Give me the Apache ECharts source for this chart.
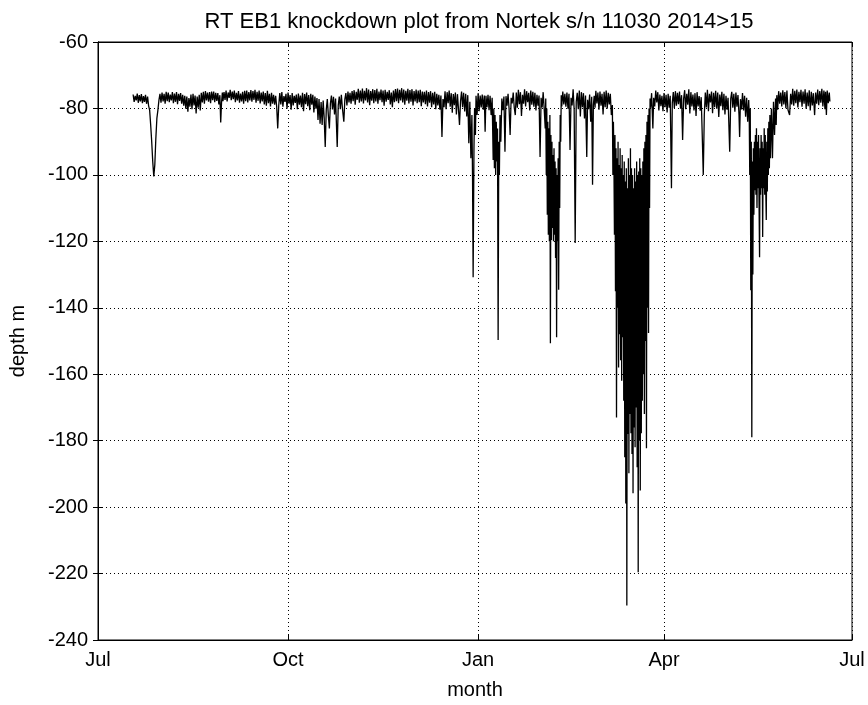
<!DOCTYPE html>
<html>
<head>
<meta charset="utf-8">
<script src="https://cdn.jsdelivr.net/npm/echarts@6/dist/echarts.min.js"></script>
<style>
  html, body { margin: 0; padding: 0; background: #fff; }
  #main { width: 868px; height: 705px; }
</style>
</head>
<body>
<div id="main"></div>
<script>
// x = days since 1 Jul 2014
var monthTickDays = [0, 92, 184, 274, 365];
var monthLabels = ['Jul', 'Oct', 'Jan', 'Apr', 'Jul'];
var depthTicks = [-240, -220, -200, -180, -160, -140, -120, -100, -80, -60];

// [day, depth m]
var depthSeries = [
  [17,-75.8],[17.5,-78.0],[18,-76.2],[18.5,-77.6],[19,-75.5],[19.5,-78.3],[20,-76.0],[20.5,-77.9],
  [21,-75.7],[21.5,-78.4],[22,-76.3],[22.5,-78.0],[23,-75.9],[23.5,-78.6],[24,-76.4],[24.5,-79.2],
  [25,-80.5],[25.5,-85],[26,-90],[26.5,-96],[27,-100.5],[27.5,-97],[28,-89],[28.5,-83],[29,-80.5],[29.5,-77.5],
  [30,-75.6],[30.5,-78.3],[31,-75.2],[31.5,-77.9],[32,-75.6],[32.5,-78.6],[33,-75.0],[33.5,-77.8],
  [34,-75.2],[34.5,-78.1],[35,-75.8],[35.5,-77.6],[36,-75.1],[36.5,-78.4],[37,-75.5],[37.5,-78.0],
  [38,-75.1],[38.5,-78.7],[39,-75.6],[39.5,-77.7],[40,-75.4],[40.5,-78.6],[41,-75.9],[41.5,-79.2],
  [42,-76.2],[42.5,-80.1],[43,-76.4],[43.5,-81.0],[44,-76.9],[44.5,-79.5],[45,-75.8],[45.5,-80.2],
  [46,-75.6],[46.5,-79.1],[47,-76.1],[47.5,-81.5],[48,-76.4],[48.5,-79.8],[49,-75.9],[49.5,-80.6],
  [50,-75.3],[50.5,-78.2],[51,-75.0],[51.5,-78.6],[52,-74.8],[52.5,-77.6],[53,-75.2],[53.5,-78.0],
  [54,-75.1],[54.5,-78.4],[55,-74.9],[55.5,-77.5],[56,-74.9],[56.5,-78.1],[57,-75.3],[57.5,-77.7],
  [58,-75.4],[58.5,-78.8],[59,-76.0],[59.4,-84.2],[59.8,-78.2],
  [60.2,-75.2],[60.5,-77.8],[61,-75.1],[61.5,-77.4],[62,-74.6],[62.5,-77.9],[63,-75.2],[63.5,-76.8],
  [64,-74.4],[64.5,-77.5],[65,-74.9],[65.5,-77.2],[66,-74.6],[66.5,-78.1],[67,-75.3],[67.5,-77.6],
  [68,-74.8],[68.5,-78.3],[69,-75.5],[69.5,-77.9],[70,-75.0],[70.5,-78.6],[71,-74.7],[71.5,-77.8],
  [72,-74.6],[72.5,-78.2],[73,-75.1],[73.5,-77.6],[74,-74.5],[74.5,-78.0],[75,-74.8],[75.5,-77.4],
  [76,-74.4],[76.5,-78.3],[77,-75.0],[77.5,-77.7],[78,-74.6],[78.5,-78.5],[79,-75.2],[79.5,-77.9],
  [80,-74.9],[80.5,-78.8],[81,-75.4],[81.5,-79.2],[82,-74.7],[82.5,-78.4],[83,-75.6],[83.5,-79.4],
  [84,-75.3],[84.5,-78.6],[85,-75.9],[85.5,-78.9],[86,-76.2],[86.5,-79.5],[87,-86],[87.5,-79],
  [88,-75.4],[88.5,-78.8],[89,-75.1],[89.5,-79.5],[90,-76.3],[90.5,-78.0],[91,-75.6],[91.5,-80.1],
  [92,-75.2],[92.5,-78.6],[93,-76.0],[93.5,-80.4],[94,-75.4],[94.5,-79.1],[95,-76.2],[95.5,-78.3],
  [96,-75.8],[96.5,-80.2],[97,-75.5],[97.5,-78.9],[98,-76.1],[98.5,-79.6],[99,-75.3],[99.5,-80.8],
  [100,-75.7],[100.5,-78.7],[101,-75.2],[101.5,-79.3],[102,-76.0],[102.5,-80.5],[103,-75.6],[103.5,-78.9],
  [104,-75.9],[104.5,-81.2],[105,-76.4],[105.5,-80.1],[106,-76.9],[106.5,-83.5],[107,-77.2],[107.5,-84.6],
  [108,-78.1],[108.5,-85],[109,-77.6],[109.5,-83],
  [110,-91.6],[110.5,-80.4],[111,-77.2],[111.5,-82],[112,-86],[112.5,-78.5],[113,-76.1],[113.5,-80.3],
  [114,-76.5],[114.5,-81.8],[115,-77.0],[115.8,-91.6],[116.3,-79],[116.8,-76.4],[117.3,-80.2],
  [117.8,-75.9],[118.3,-79.8],[119,-84],[119.5,-77.2],
  [120,-75.4],[120.5,-79.1],[121,-74.9],[121.5,-78.2],[122,-75.3],[122.5,-78.6],[123,-74.8],[123.5,-77.8],
  [124,-74.5],[124.5,-78.9],[125,-75.0],[125.5,-77.4],[126,-74.1],[126.5,-78.3],[127,-74.6],[127.5,-77.9],
  [128,-74.0],[128.5,-78.5],[129,-74.7],[129.5,-77.6],[130,-73.9],[130.5,-78.2],[131,-74.3],[131.5,-79.0],
  [132,-74.8],[132.5,-77.7],[133,-74.2],[133.5,-78.4],[134,-74.5],[134.5,-77.9],[135,-74.1],[135.5,-78.6],
  [136,-74.9],[136.5,-77.5],[137,-74.3],[137.5,-78.1],[138,-74.6],[138.5,-79.2],[139,-74.4],[139.5,-78.0],
  [140,-75.0],[140.5,-77.4],[141,-74.5],[141.5,-78.8],[142,-75.2],[142.5,-79.6],[143,-74.6],[143.5,-78.1],
  [144,-74.2],[144.5,-77.8],[145,-74.0],[145.5,-78.4],[146,-74.4],[146.5,-77.6],[147,-73.9],[147.5,-78.2],
  [148,-74.3],[148.5,-78.9],[149,-74.7],[149.5,-77.7],[150,-74.1],[150.5,-78.5],[151,-74.5],[151.5,-78.0],
  [152,-74.2],[152.5,-79.1],[153,-74.8],[153.5,-77.9],[154,-74.3],[154.5,-78.4],[155,-74.6],[155.5,-78.1],
  [156,-74.4],[156.5,-79.3],[157,-74.9],[157.5,-78.2],[158,-75.0],[158.5,-78.7],[159,-74.6],[159.5,-79.4],
  [160,-75.1],[160.5,-78.3],[161,-74.8],[161.5,-79.6],[162,-75.3],[162.5,-78.8],[163,-75.0],[163.5,-80.2],
  [164,-75.6],[164.5,-79.1],[165,-75.9],[165.5,-80.4],[166,-76.1],[166.5,-88.6],[167,-77.2],[167.5,-79.6],
  [168,-74.8],[168.5,-80.2],[169,-75.1],[169.5,-78.4],[170,-74.6],[170.5,-79.5],[171,-75.4],[171.5,-81.3],
  [172,-75.7],[172.5,-79.0],[173,-75.2],[173.5,-81.8],[174,-75.7],[174.5,-80.2],[175,-85],[175.5,-77.8],
  [176,-74.9],[176.5,-79.6],[177,-75.3],[177.5,-80.9],[178,-75.6],[178.5,-82.4],
  [179,-76],[179.5,-90.5],[180,-78],[180.5,-95],[181,-82],[181.3,-100],[181.6,-130.8],[182,-92],
  [182.3,-80],[182.7,-88],[183,-76.2],[183.5,-82],
  [184,-75.4],[184.5,-80.8],[185,-76.1],[185.5,-79.7],[186,-75.8],[186.5,-80.4],[187,-76.1],[187.4,-87],
  [187.8,-76.2],[188.3,-79.6],[188.8,-75.9],[189.3,-80.5],[189.8,-76.2],[190.3,-82],[190.8,-76.8],
  [191.3,-95.5],[191.6,-80],[191.9,-98],[192.2,-82],[192.5,-100],[192.8,-84],[193.1,-96],[193.4,-86],
  [193.7,-149.7],[194,-90],[194.3,-100],[194.6,-82],[195,-90],[195.5,-77],[196,-80.5],[196.5,-76.4],
  [197,-93],[197.5,-76.3],[198,-79.2],[198.5,-75.6],[199,-80.1],[199.5,-88],
  [200,-76.8],[200.5,-78.5],[201,-75.2],[201.5,-79.8],[202,-82],[202.5,-75.2],[203,-79.8],[203.5,-74.4],
  [204,-78.7],[204.5,-75.1],[205,-82.3],[205.5,-75.9],[206,-78.6],[206.5,-74.2],[207,-79.4],[207.5,-74.8],
  [208,-78.1],[208.5,-75.3],[209,-80.6],[209.5,-74.6],[210,-78.9],[210.5,-75.0],[211,-79.5],[211.5,-75.3],
  [212,-80.6],[212.5,-75.9],[213,-79.2],[213.5,-76.1],[214,-94.6],[214.5,-76.8],[215,-79.7],[215.5,-75.1],
  [216,-80.2],[216.5,-86],[216.75,-77],[217,-100],[217.25,-80],[217.5,-112],[217.75,-84],[218,-118],
  [218.25,-86],[218.5,-120],[218.75,-82],[219,-150.7],[219.25,-88],[219.5,-119.6],[219.75,-90],[220,-116],
  [220.25,-94],[220.5,-120],[220.75,-92],[221,-118],[221.25,-96],[221.5,-125],[221.75,-98],[222,-148.9],
  [222.25,-100],[222.5,-120],[222.75,-95],[223,-134.6],[223.25,-90],[223.5,-110],[223.75,-82],[224,-90],
  [224.25,-76],[224.5,-79.4],[225,-74.9],[225.5,-78.8],[226,-75.6],[226.5,-79.5],[227,-75.2],[227.5,-80.1],
  [228,-75.6],[228.5,-92.5],[229,-76.8],[229.5,-79.1],[230,-74.2],[230.5,-80.3],[231,-120.5],[231.5,-78],
  [232,-75.3],[232.5,-80.2],[233,-74.6],[233.5,-82.4],[234,-75.1],[234.5,-79.6],[235,-75.4],[235.5,-83],
  [236,-76.1],[236.6,-94.6],[237,-77.4],[237.5,-80.2],[238,-75.8],[238.5,-84],[239,-76.5],[239.4,-103],
  [239.8,-79],[240.2,-76.2],[240.6,-79.8],[241,-74.7],[241.5,-78.5],[242,-75.2],[242.5,-80.4],[243,-74.9],
  [243.5,-79.2],[244,-75.6],[244.5,-81.8],[245,-75.0],[245.5,-79.6],[246,-74.6],[246.5,-80.1],[247,-75.3],
  [247.5,-78.8],[248,-75.6],[248.5,-82],[249,-79],[249.25,-100],[249.5,-84],
  [249.75,-96],[250,-118],[250.25,-88],[250.5,-135],[250.75,-92],[251,-173],[251.25,-95],[251.5,-140],
  [251.75,-90],[252,-158],[252.25,-97],[252.5,-148],[252.75,-92],[253,-155.8],[253.25,-98],[253.5,-162],
  [253.75,-94],[254,-148.9],[254.25,-100],[254.5,-168],[254.75,-96],[255,-185],[255.25,-102],[255.5,-198.9],
  [255.75,-98],[256,-229.6],[256.25,-104],[256.5,-178],[256.75,-95],[257,-189.8],[257.25,-100],[257.5,-172],
  [257.75,-92],[258,-177.8],[258.25,-98],[258.5,-184],[258.75,-100],[259,-195.8],[259.25,-104],[259.5,-176],
  [259.75,-98],[260,-182],[260.25,-102],[260.5,-170],[260.75,-96],[261,-188],[261.25,-100],[261.5,-219.6],
  [261.75,-99],[262,-180],[262.25,-95],[262.5,-195],[262.75,-98],[263,-177.8],[263.25,-100],[263.5,-168],
  [263.75,-96],[264,-160],[264.25,-92],[264.5,-172],[264.75,-90],[265,-150],[265.25,-88],[265.5,-182.3],
  [265.75,-84],[266,-140],[266.25,-82],[266.5,-147.6],[266.75,-80],[267,-110],[267.25,-77],
  [267.5,-79.8],[268,-75.4],[268.6,-86],[269,-76.8],[269.5,-79.4],[270,-74.6],[270.5,-78.2],[271,-75.1],
  [271.5,-80.6],[272,-75.8],[272.5,-79.3],[273,-76.2],[273.5,-80.8],[274,-75.4],[274.5,-79.6],[275,-75.9],
  [275.5,-81.2],[276,-75.6],[276.5,-79.8],[277,-76.2],[277.6,-104],[278,-78.4],[278.5,-75.1],[279,-79.9],
  [279.5,-74.8],[280,-79.2],[280.5,-75.3],[281,-78.7],[281.5,-74.9],[282,-80.1],[282.5,-76.0],[283,-89.5],
  [283.5,-77],[284,-74.5],[284.5,-80.2],[285,-75.6],[285.5,-78.9],[286,-74.2],[286.5,-81.5],[287,-75.1],
  [287.5,-79.4],[288,-75.8],[288.5,-80.6],[289,-75.4],[289.5,-82.3],[290,-75.1],[290.5,-79.4],[291,-76.3],
  [291.5,-80.7],[292,-76.6],[292.5,-88],[293,-100],[293.5,-82],[294,-75.2],[294.5,-79.7],[295,-74.4],
  [295.5,-80.8],[296,-75.6],[296.5,-78.2],[297,-74.9],[297.5,-81.4],[298,-75.3],[298.5,-79.6],[299,-74.7],
  [299.5,-80.1],[300,-75.2],[300.5,-82.6],[301,-75.8],[301.5,-79.3],[302,-75.0],[302.5,-80.5],[303,-75.6],
  [303.5,-81.8],[304,-76.2],[304.5,-80.4],[305,-76.8],[305.8,-93],[306.3,-77],[306.8,-75.0],[307.3,-79.8],
  [307.8,-75.6],[308.3,-81],[308.8,-75.2],[309.3,-79.5],[309.8,-76.0],[310.3,-82],[310.6,-88.6],[311,-77.2],
  [311.5,-80.3],[312,-75.4],[312.5,-80.6],[313,-76.2],[313.5,-82.5],[314,-76.8],[314.5,-84],[315,-77.5],
  [315.25,-82],[315.5,-100],[315.75,-80],[316,-134.7],[316.25,-90],[316.5,-179],[316.75,-96],[317,-130],
  [317.25,-92],[317.5,-112],[317.75,-90],[318,-104.6],[318.25,-88],[318.5,-106],[318.75,-86],[319,-110],
  [319.25,-90],[319.5,-104],[319.75,-88],[320,-108],[320.25,-124.8],[320.5,-92],[320.75,-106],[321,-88],
  [321.25,-104],[321.5,-90],[321.75,-118.7],[322,-92],[322.25,-104],[322.5,-86],[322.75,-106],[323,-88],
  [323.25,-104],[323.5,-113.6],[323.75,-90],[324,-105],[324.25,-86],[324.5,-100],[324.75,-84],[325,-98],
  [325.25,-82],[325.5,-95],[326,-80],[326.5,-95],[327,-78],[327.5,-88],[328,-77],[328.3,-85],[328.6,-76],
  [329,-80.4],[329.5,-74.8],[330,-78.6],[330.5,-75.2],[331,-79.4],[331.5,-74.5],[332,-78.8],[332.5,-75.1],
  [333,-79.9],[333.5,-74.6],[334,-80.4],[334.8,-82],[335.3,-75.6],[335.8,-78.8],[336.3,-74.1],[336.8,-79.2],
  [337.3,-74.7],[337.8,-78.4],[338.3,-74.3],[338.8,-79.7],[339.3,-75.0],[339.8,-78.1],[340.3,-74.4],
  [340.8,-79.5],[341.3,-74.9],[341.8,-78.6],[342.3,-74.2],[342.8,-80.1],[343.3,-75.2],[343.8,-79.3],
  [344.3,-74.5],[344.8,-80.6],[345.3,-75.0],[345.8,-79.1],[346.3,-75.4],[346.9,-82],[347.4,-75.2],
  [347.9,-78.6],[348.4,-74.3],[348.9,-79.0],[349.4,-74.8],[349.9,-78.3],[350.4,-74.1],[350.9,-79.4],
  [351.4,-74.6],[351.9,-80.2],[352.2,-75.0],[352.6,-82],[353,-74.6],[353.5,-78.4],[354,-75.2],[354.3,-77.9]
];

var font = 'Liberation Sans, Arial, sans-serif';
var dotted = { color: '#000', width: 1, type: [1, 3] };

var chart = echarts.init(document.getElementById('main'));
chart.setOption({
  animation: false,
  backgroundColor: '#fff',
  title: {
    text: 'RT EB1 knockdown plot from Nortek s/n 11030 2014>15',
    left: 474, top: 6, textAlign: 'center',
    textStyle: { fontFamily: font, fontSize: 22, fontWeight: 'normal', color: '#000' }
  },
  grid: { left: 97, right: 16, top: 42, bottom: 65, show: true, borderColor: '#000', borderWidth: 1 },
  xAxis: [{
    type: 'value', min: monthTickDays[0], max: monthTickDays[monthTickDays.length - 1],
    name: 'month', nameLocation: 'middle', nameGap: 40,
    nameTextStyle: { fontFamily: font, fontSize: 20, color: '#000' },
    axisLine: { lineStyle: { color: '#000' } },
    axisTick: { inside: true, length: 5, customValues: monthTickDays, lineStyle: { color: '#000' } },
    axisLabel: {
      customValues: monthTickDays, margin: 10, fontFamily: font, fontSize: 20, color: '#000',
      formatter: function (v) { return monthLabels[monthTickDays.indexOf(v)]; }
    },
    splitLine: { show: true, lineStyle: dotted }
  }, {
    type: 'value', position: 'top', min: monthTickDays[0], max: monthTickDays[monthTickDays.length - 1],
    axisLine: { lineStyle: { color: '#000' } },
    axisTick: { inside: true, length: 5, customValues: monthTickDays, lineStyle: { color: '#000' } },
    axisLabel: { show: false }, splitLine: { show: false }
  }],
  yAxis: [{
    type: 'value', min: depthTicks[0], max: depthTicks[depthTicks.length - 1], interval: 20,
    name: 'depth m', nameLocation: 'middle', nameGap: 70,
    nameTextStyle: { fontFamily: font, fontSize: 20, color: '#000' },
    axisLine: { show: true, lineStyle: { color: '#000' } },
    axisTick: { show: true, inside: true, length: 5, lineStyle: { color: '#000' } },
    axisLabel: { margin: 10, fontFamily: font, fontSize: 20, color: '#000' },
    splitLine: { show: true, lineStyle: dotted }
  }, {
    type: 'value', position: 'right', min: depthTicks[0], max: depthTicks[depthTicks.length - 1], interval: 20,
    axisLine: { show: true, lineStyle: { color: '#000' } },
    axisTick: { show: true, inside: true, length: 5, lineStyle: { color: '#000' } },
    axisLabel: { show: false }, splitLine: { show: false }
  }],
  series: [{
    type: 'line',
    data: depthSeries,
    showSymbol: false,
    symbol: 'none',
    sampling: 'none',
    lineStyle: { color: '#000', width: 1.3 }
  }]
});
</script>
</body>
</html>
